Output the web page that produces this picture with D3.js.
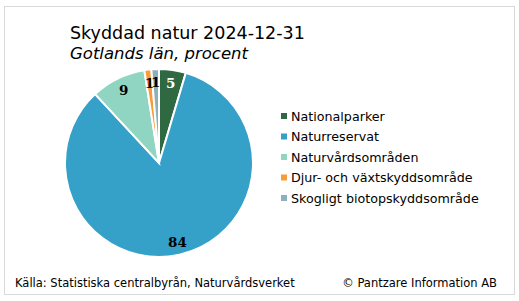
<!DOCTYPE html>
<html>
<head>
<meta charset="utf-8">
<script src="https://cdn.jsdelivr.net/npm/d3@7"></script>
<style>
  body { margin: 0; background: #fff; }
  svg { display: block; font-family: "DejaVu Sans", Verdana, sans-serif; }
</style>
</head>
<body>
<svg id="chart" width="519" height="301"></svg>
<script>
// data
const categories = ["Nationalparker", "Naturreservat", "Naturvårdsområden", "Djur- och växtskyddsområde", "Skogligt biotopskyddsområde"];
const values = [4.6, 83.5, 9.4, 1.2, 1.3];
const labels = ["5", "84", "9", "1", "1"];
const colors = ["#2e6942", "#35a0c8", "#8fd5c2", "#f89c38", "#8eb0bd"];
const labelColors = ["#fff", "#000", "#000", "#000", "#000"];

const svg = d3.select("#chart");

// frame
svg.append("rect")
    .attr("x", 4.5).attr("y", 6.5)
    .attr("width", 510).attr("height", 288)
    .attr("fill", "#fff")
    .attr("stroke", "#d9d9d9");

// titles
svg.append("text")
    .attr("x", 70).attr("y", 39)
    .style("font-size", "17.5px")
    .attr("fill", "#000")
    .text("Skyddad natur 2024-12-31");
svg.append("text")
    .attr("x", 70).attr("y", 59)
    .style("font-size", "16.5px")
    .style("font-style", "italic")
    .attr("fill", "#000")
    .text("Gotlands län, procent");

// pie
const cx = 159, cy = 163, radius = 94;
const data = categories.map((c, i) => ({cat: c, value: values[i], label: labels[i], i: i}));
const pie = d3.pie().sort(null).value(d => d.value);
const arc = d3.arc().innerRadius(0).outerRadius(radius);
const labelArc = d3.arc().innerRadius(radius * 0.86).outerRadius(radius * 0.86);

const pieGroup = svg.append("g").attr("transform", `translate(${cx},${cy})`);
const arcs = pie(data);

pieGroup.selectAll("path")
    .data(arcs)
    .enter()
    .append("path")
    .attr("d", arc)
    .attr("fill", d => colors[d.data.i])
    .attr("stroke", "#fff")
    .attr("stroke-width", 2);

pieGroup.selectAll("text")
    .data(arcs)
    .enter()
    .append("text")
    .attr("transform", d => `translate(${labelArc.centroid(d)})`)
    .attr("text-anchor", "middle")
    .attr("dy", "0.36em")
    .style("font-family", "'DejaVu Serif', serif")
    .style("font-weight", "bold")
    .style("font-size", "13.5px")
    .attr("fill", d => labelColors[d.data.i])
    .text(d => d.data.label);

// legend
const legend = svg.append("g").attr("transform", "translate(281,116)");
const rowH = 20.5;
categories.forEach((c, i) => {
    legend.append("rect")
        .attr("x", 0).attr("y", i * rowH - 3)
        .attr("width", 6).attr("height", 6)
        .attr("fill", colors[i]);
    legend.append("text")
        .attr("x", 10).attr("y", i * rowH)
        .attr("dy", "0.36em")
        .style("font-size", "12.7px")
        .attr("fill", "#000")
        .text(c);
});

// footer
svg.append("text")
    .attr("x", 15).attr("y", 287)
    .style("font-size", "11.5px")
    .attr("fill", "#000")
    .text("Källa: Statistiska centralbyrån, Naturvårdsverket");
svg.append("text")
    .attr("x", 497).attr("y", 287)
    .attr("text-anchor", "end")
    .style("font-size", "11.5px")
    .attr("fill", "#000")
    .text("© Pantzare Information AB");
</script>
</body>
</html>
